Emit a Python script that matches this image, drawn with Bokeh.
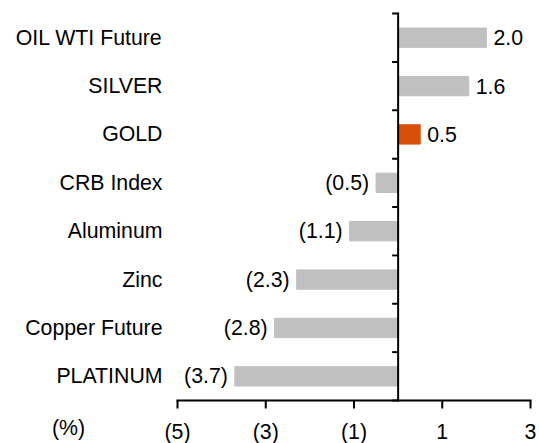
from bokeh.plotting import figure
from bokeh.models import Range1d, ColumnDataSource
from bokeh.core.properties import value
from bokeh.embed import file_html
from bokeh.resources import INLINE

# ---- data (top to bottom) ----
categories = ["OIL WTI Future", "SILVER", "GOLD", "CRB Index", "Aluminum",
              "Zinc", "Copper Future", "PLATINUM"]
values = [2.0, 1.6, 0.5, -0.5, -1.1, -2.3, -2.8, -3.7]
highlight = "GOLD"
x_ticks = [-5, -3, -1, 1, 3]
unit_label = "(%)"

# ---- styling / layout ----
FONT = "Liberation Sans"
FS = "21.3px"
GREY = "#C0C0C0"
ORANGE = "#D94F0A"
W, H = 539, 443
PX_X = 44.125          # pixels per x unit
PX_Y = 48.375          # pixels per category row
LEFT_PAD = 177         # pixels left of x_ticks[0]
TOP_PAD = 13           # pixels above top row
AXIS_Y = 400           # pixel row of the x axis (from top of canvas)


def fmt(v):
    return f"({abs(v):.1f})" if v < 0 else f"{v:.1f}"


def fmt_tick(t):
    return f"({abs(t)})" if t < 0 else f"{t}"


n = len(categories)
x0 = x_ticks[0] - LEFT_PAD / PX_X
x1 = x0 + W / PX_X
y1 = n + TOP_PAD / PX_Y
y0 = -(H - AXIS_Y) / PX_Y

p = figure(width=W, height=H, output_backend="svg", toolbar_location=None,
           x_range=Range1d(x0, x1), y_range=Range1d(y0, y1),
           x_axis_location=None, y_axis_location=None,
           min_border_left=0, min_border_right=0, min_border_top=0,
           min_border_bottom=0)
p.outline_line_color = None
p.grid.visible = False
p.background_fill_color = "white"
p.border_fill_color = "white"

ypos = [n - i - 0.5 for i in range(n)]
colors = [ORANGE if c == highlight else GREY for c in categories]
labels = [fmt(v) for v in values]
src = ColumnDataSource(dict(y=ypos, v=values, c=colors, lab=labels))
pos_src = ColumnDataSource(dict(y=[y for y, v in zip(ypos, values) if v >= 0],
                                v=[v for v in values if v >= 0],
                                lab=[l for l, v in zip(labels, values) if v >= 0]))
neg_src = ColumnDataSource(dict(y=[y for y, v in zip(ypos, values) if v < 0],
                                v=[v for v in values if v < 0],
                                lab=[l for l, v in zip(labels, values) if v < 0]))

# bars
p.hbar(y="y", right="v", left=0, height=0.4, color="c", source=src)

# value labels
p.text(x="v", y="y", text="lab", source=pos_src, x_offset=7,
       text_align="left", text_baseline="middle",
       text_font=value(FONT), text_font_size=FS, text_color="black")
p.text(x="v", y="y", text="lab", source=neg_src, x_offset=-7,
       text_align="right", text_baseline="middle",
       text_font=value(FONT), text_font_size=FS, text_color="black")

# category labels
p.text(x=[x_ticks[0]] * n, y=ypos, text=categories, x_offset=-15,
       text_align="right", text_baseline="middle",
       text_font=value(FONT), text_font_size=FS, text_color="black")

# vertical zero axis with category separator ticks
p.segment(x0=[0], x1=[0], y0=[0], y1=[n], line_color="black", line_width=2,
          line_cap="square")
bounds = list(range(n + 1))
p.segment(x0=[0] * len(bounds), x1=[-6 / PX_X] * len(bounds), y0=bounds,
          y1=bounds, line_color="black", line_width=2)

# x axis line, ticks and tick labels
p.segment(x0=[x_ticks[0]], x1=[x_ticks[-1]], y0=[0], y1=[0],
          line_color="black", line_width=2, line_cap="square")
p.segment(x0=x_ticks, x1=x_ticks, y0=[0] * len(x_ticks),
          y1=[-8 / PX_Y] * len(x_ticks), line_color="black", line_width=2)
p.text(x=x_ticks, y=[0] * len(x_ticks), text=[fmt_tick(t) for t in x_ticks],
       y_offset=31, text_align="center", text_baseline="middle",
       text_font=value(FONT), text_font_size=FS, text_color="black")

# unit label
p.text(x=[x_ticks[0]], y=[0], text=[unit_label], x_offset=-109, y_offset=27,
       text_align="center", text_baseline="middle",
       text_font=value(FONT), text_font_size=FS, text_color="black")

open("out.html", "w").write(file_html(p, INLINE))
